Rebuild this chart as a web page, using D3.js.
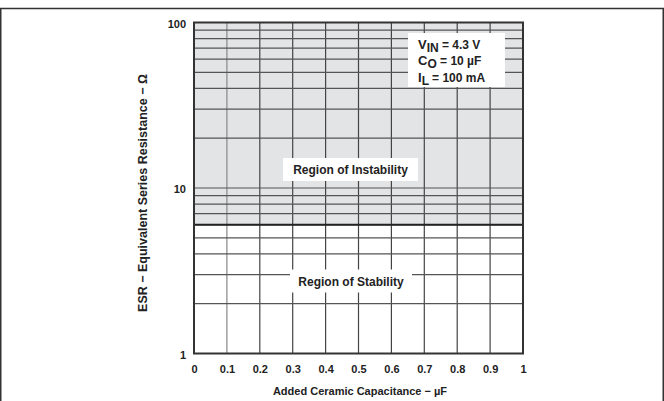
<!DOCTYPE html>
<html><head><meta charset="utf-8">
<script src="https://cdn.jsdelivr.net/npm/d3@7"></script>
<style>body{margin:0;background:#fff}svg{display:block}text{font-family:"Liberation Sans",Arial,sans-serif;font-weight:bold;fill:#222}</style>
</head><body>
<script>
const xTicks = [0,0.1,0.2,0.3,0.4,0.5,0.6,0.7,0.8,0.9,1];
const xTickLabels = ["0","0.1","0.2","0.3","0.4","0.5","0.6","0.7","0.8","0.9","1"];
const yTicks = [1,10,100];
const yTickLabels = ["1","10","100"];
const yGrid = [2,3,4,5,6,7,8,9,10,20,30,40,50,60,70,80,90];
const boundaryESR = [6, 6];      // ESR boundary across capacitance range
const boundaryCap = [0, 1];
const legendLines = [["V","IN"," = 4.3 V"],["C","O"," = 10 µF"],["I","L"," = 100 mA"]];

const W=664,H=401;
const svg=d3.select("body").append("svg").attr("width",W).attr("height",H);
const m={l:194,r:523,t:22.5,b:353.5};
const x=d3.scaleLinear().domain([0,1]).range([m.l,m.r]);
const y=d3.scaleLog().domain([1,100]).range([m.b,m.t]);

// outer frame
svg.append("path").attr("d",`M0.75,${H} V8.5 H${W-0.75} V${H}`).attr("fill","none").attr("stroke","#333").attr("stroke-width",1.5);

// instability region
svg.append("rect").attr("x",x(0)).attr("y",y(100)).attr("width",x(1)-x(0)).attr("height",y(boundaryESR[0])-y(100)).attr("fill","#e3e4e6");

// grid
svg.append("g").selectAll("line").data(xTicks.slice(1,-1)).join("line")
  .attr("x1",d=>x(d)).attr("x2",d=>x(d)).attr("y1",y(100)).attr("y2",y(1))
  .attr("stroke",(d,i)=>i===0?"#888":"#444").attr("stroke-width",1.2);
svg.append("g").selectAll("line").data(yGrid).join("line")
  .attr("x1",x(0)).attr("x2",x(1)).attr("y1",d=>y(d)).attr("y2",d=>y(d))
  .attr("stroke","#555").attr("stroke-width",1.2);

// boundary line
svg.append("line").attr("x1",x(boundaryCap[0])).attr("x2",x(boundaryCap[1]))
  .attr("y1",y(boundaryESR[0])).attr("y2",y(boundaryESR[1])).attr("stroke","#222").attr("stroke-width",2);

// frame
svg.append("rect").attr("x",x(0)).attr("y",y(100)).attr("width",x(1)-x(0)).attr("height",y(1)-y(100))
  .attr("fill","none").attr("stroke","#333").attr("stroke-width",2);

// axes labels via d3 axes
const xAxis=d3.axisBottom(x).tickValues(xTicks).tickFormat((d,i)=>xTickLabels[i]).tickSize(0).tickPadding(12);
const gx=svg.append("g").attr("transform",`translate(0,${m.b})`).call(xAxis);
gx.select(".domain").remove();
gx.selectAll("text").attr("font-size",11).attr("font-family","Liberation Sans, Arial").attr("font-weight","bold").attr("fill","#222");
const yAxis=d3.axisLeft(y).tickValues(yTicks).tickFormat((d,i)=>yTickLabels[i]).tickSize(0).tickPadding(8);
const gy=svg.append("g").attr("transform",`translate(${m.l},0)`).call(yAxis);
gy.select(".domain").remove();
gy.selectAll("text").attr("font-size",11).attr("font-family","Liberation Sans, Arial").attr("font-weight","bold").attr("fill","#222").attr("dy","0.45em");

// titles
svg.append("text").attr("x",360).attr("y",395).attr("text-anchor","middle").attr("font-size",11).text("Added Ceramic Capacitance − µF");
svg.append("text").attr("transform","translate(147,193) rotate(-90)").attr("text-anchor","middle").attr("font-size",12.5).text("ESR − Equivalent Series Resistance − Ω");

// region labels
function boxLabel(txt,cx,cy,bw){
  svg.append("rect").attr("x",cx-bw/2).attr("y",cy-11.5).attr("width",bw).attr("height",23).attr("fill","#fff");
  svg.append("text").attr("x",cx).attr("y",cy+4.5).attr("text-anchor","middle").attr("font-size",12).text(txt);
}
boxLabel("Region of Instability",350.5,169.5,135);
boxLabel("Region of Stability",351,281,122);

// legend
svg.append("rect").attr("x",408).attr("y",33).attr("width",97).attr("height",54).attr("fill","#fff");
legendLines.forEach((l,i)=>{
  const t=svg.append("text").attr("x",418).attr("y",48.5+i*16.5).attr("font-size",13);
  t.append("tspan").text(l[0]);
  t.append("tspan").attr("dy",3).attr("font-size",12).text(l[1]);
  t.append("tspan").attr("dy",-3).attr("font-size",12).text(l[2]);
});
</script>
</body></html>
